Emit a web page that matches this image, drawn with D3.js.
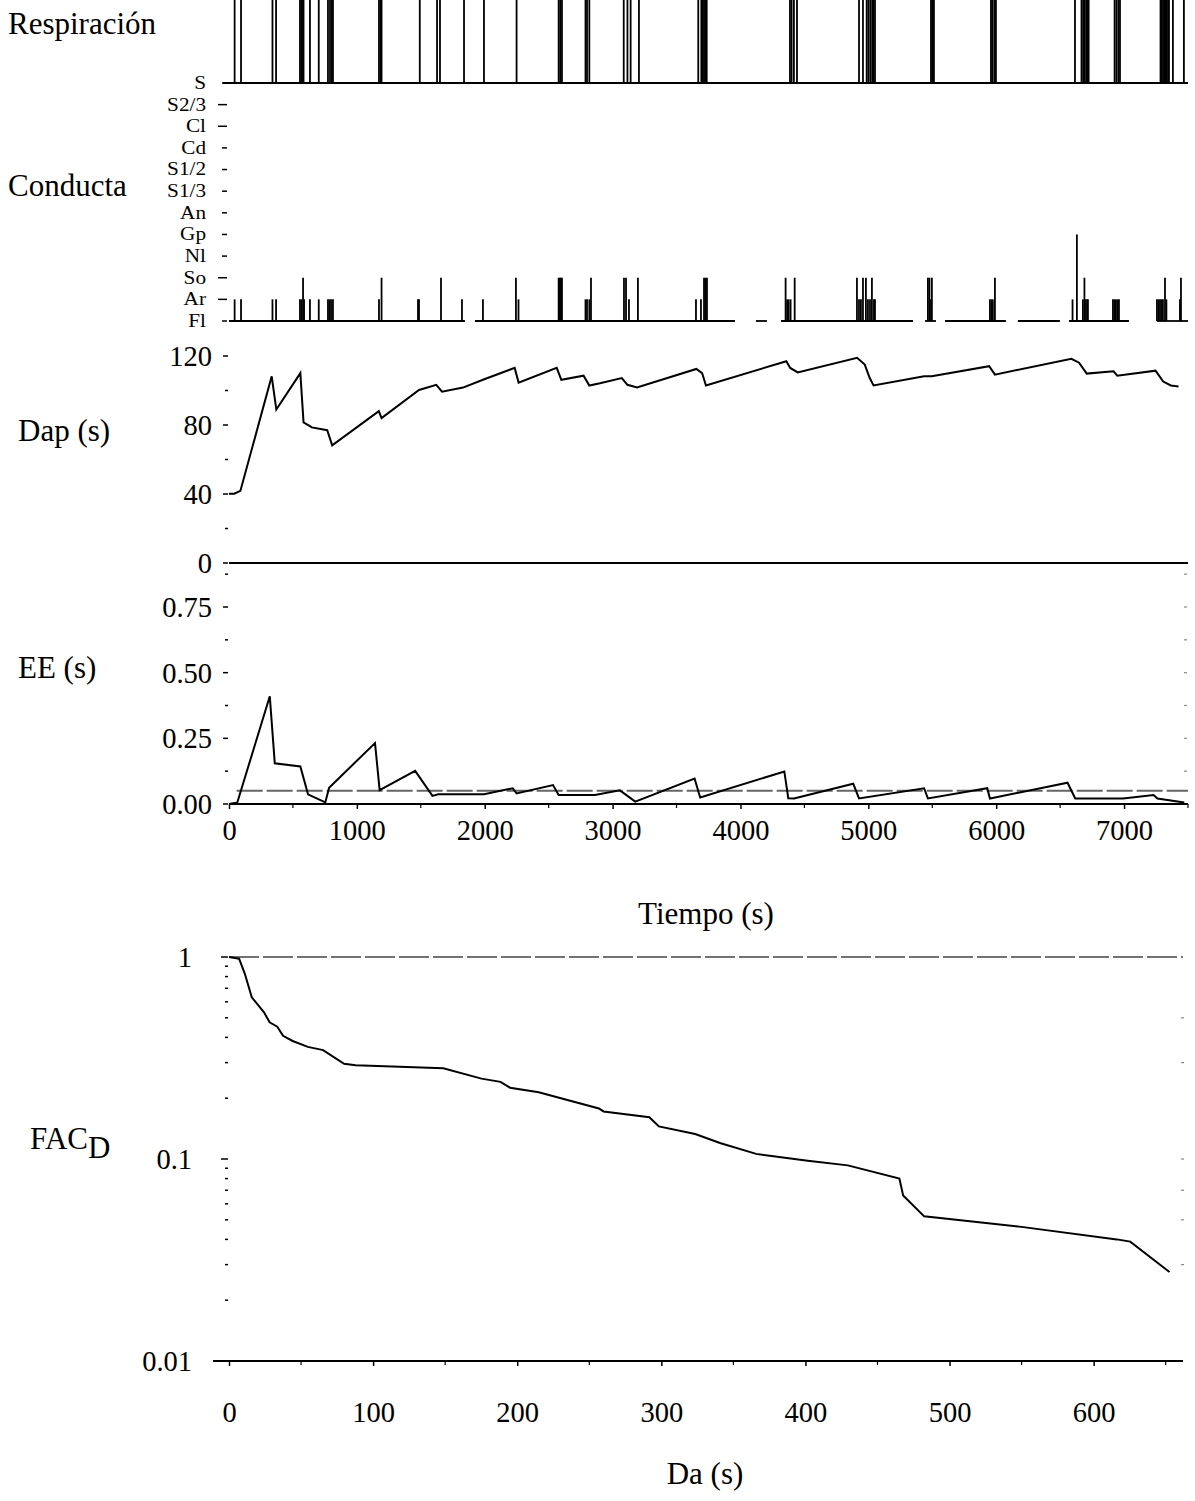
<!DOCTYPE html>
<html>
<head>
<meta charset="utf-8">
<script src="https://cdn.jsdelivr.net/npm/d3@7"></script>
<style>
  html, body { margin: 0; padding: 0; background: #fff; }
  svg { display: block; }
  text { font-family: "Liberation Serif", "Times New Roman", serif; fill: #000; }
</style>
</head>
<body>
<svg id="chart" width="1195" height="1501"></svg>
<script>
// ---- Respiration events (s): each one is a full-height stroke
const respirationTimes = [44, 94, 340, 368, 555, 565, 575, 583, 633, 702, 774, 790, 805, 813,
  1173, 1185, 1193, 1492, 1627, 1650, 1838, 1994, 2249, 2578, 2590, 2604, 2788, 2800, 2818,
  3087, 3116, 3141, 3206, 3670, 3694, 3705, 3715, 3725, 3736, 4387, 4400, 4418, 4442,
  4927, 4958, 4987, 5000, 5015, 5030, 5040, 5052, 5490, 5500, 5513, 5959, 5970, 5985, 5998,
  6616, 6667, 6680, 6693, 6705, 6715, 6723, 6926, 6940, 6955, 6968,
  7285, 7295, 7305, 7315, 7325, 7335, 7345, 7351, 7382, 7468];

// ---- Behaviour categories, bottom to top
const behaviorCategories = ["Fl", "Ar", "So", "Nl", "Gp", "An", "S1/3", "S1/2", "Cd", "Cl", "S2/3", "S"];

// Behaviour events: time (s) and the category reached from the Fl baseline
const behaviorTimes = [44, 94, 340, 368, 555, 567, 579, 587, 633, 702, 774, 786, 798, 813,
  1173, 1193, 1478, 1486, 1658, 1822, 1986, 2244, 2264, 2578, 2588, 2596, 2604,
  2788, 2800, 2818, 2831, 3089, 3105, 3128, 3198, 3652, 3691, 3715, 3726, 3738,
  4353, 4365, 4377, 4392, 4424, 4911, 4927, 4942, 4958, 4981, 4997, 5013, 5028, 5044, 5052,
  5466, 5478, 5490, 5497, 5951, 5963, 5974, 5990,
  6597, 6631, 6678, 6690, 6702, 6713, 6717, 6913, 6925, 6936, 6948, 6960,
  7257, 7269, 7281, 7293, 7304, 7320, 7331, 7437, 7445];
const behaviorLevels = ["Ar", "Ar", "Ar", "Ar", "Ar", "Ar", "So", "Ar", "Ar", "Ar", "Ar", "Ar", "Ar", "Ar",
  "Ar", "So", "Ar", "Ar", "So", "Ar", "Ar", "So", "Ar", "So", "So", "So", "So",
  "Ar", "Ar", "Ar", "So", "So", "So", "Ar", "So", "Ar", "Ar", "So", "So", "So",
  "So", "Ar", "Ar", "Ar", "So", "So", "Ar", "Ar", "So", "So", "Ar", "Ar", "So", "Ar", "Ar",
  "So", "So", "Ar", "So", "Ar", "Ar", "Ar", "So",
  "Ar", "Gp", "Ar", "So", "Ar", "Ar", "Ar", "Ar", "Ar", "Ar", "Ar", "Ar",
  "Ar", "Ar", "Ar", "Ar", "Ar", "So", "Ar", "Ar", "So"];
// Stretches (s) where the Fl baseline was not recorded
const flBaselineGaps = [[1845, 1924], [3957, 4121], [4207, 4317], [5349, 5443], [5529, 5600],
  [6076, 6170], [6498, 6569], [7038, 7257]];

// ---- Dap (s) against time (s)
const dapTime = [0, 41, 89, 334, 370, 558, 583, 648, 768, 807, 1172, 1193, 1486, 1621, 1666, 1830,
  1986, 2234, 2265, 2563, 2599, 2773, 2818, 2901, 3072, 3116, 3191, 3655, 3700, 3730,
  4359, 4389, 4448, 4912, 4972, 5011, 5041, 5436, 5496, 5945, 5990, 6588, 6648, 6708,
  6918, 6947, 7246, 7306, 7366, 7426];
const dapValues = [40.2, 40.2, 41.8, 108.2, 89, 110.1, 81.5, 78.6, 77, 68.2, 88, 84, 100.3, 103.3, 99.3, 101.7,
  106.2, 113.1, 104.6, 113.1, 106.2, 108.6, 102.9, 104.2, 107.2, 103.3, 101.7, 112.5, 110.1, 102.9,
  117, 113.1, 110.5, 119, 115, 107.2, 102.9, 108.2, 108.2, 114.1, 109.2, 118.4, 116.1, 109.8,
  111.1, 108.6, 111.5, 105.2, 102.9, 102.3];

// ---- EE (s) against time (s)
const eeTime = [0, 65, 319, 358, 558, 618, 753, 783, 1142, 1178, 1456, 1591, 1636, 1995, 2219, 2249,
  2534, 2578, 2862, 3057, 3177, 3641, 3685, 4343, 4374, 4419, 4882, 4927, 5436, 5466,
  5930, 5951, 6558, 6618, 6992, 7231, 7261, 7471];
const eeValues = [0, 0.006, 0.41, 0.155, 0.143, 0.037, 0.006, 0.062, 0.232, 0.053, 0.126, 0.031, 0.037, 0.037, 0.06, 0.04,
  0.072, 0.034, 0.034, 0.052, 0.009, 0.097, 0.025, 0.124, 0.022, 0.021, 0.077, 0.021, 0.06, 0.021,
  0.06, 0.021, 0.081, 0.021, 0.021, 0.034, 0.021, 0.006];
const eeReference = 0.05;

// ---- FAC_D against Da (s)
const facDa = [0, 7, 11, 15.8, 24.3, 28.2, 33.5, 37.5, 44.2, 54.7, 65.3, 79.9, 87.8, 148.7, 175.2, 188.4,
  195.1, 214.9, 256.7, 259.9, 291.7, 298.3, 323.5, 340.7, 365.8, 401.6, 429.4, 465.2, 467.8,
  482.4, 551.2, 616.1, 625.4, 652.6];
const facValues = [1, 0.981, 0.826, 0.632, 0.532, 0.475, 0.452, 0.407, 0.384, 0.359, 0.346, 0.296, 0.291, 0.281, 0.25, 0.241,
  0.225, 0.214, 0.178, 0.172, 0.161, 0.145, 0.133, 0.12, 0.106, 0.098, 0.093, 0.08, 0.066,
  0.052, 0.046, 0.04, 0.039, 0.0276];

// ---- Tick values
const timeTicks = [0, 1000, 2000, 3000, 4000, 5000, 6000, 7000];
const timeMinorTicks = [500, 1500, 2500, 3500, 4500, 5500, 6500, 7500];
const dapTicks = [0, 40, 80, 120];
const dapMinorTicks = [20, 60, 100];
const eeTicks = [0, 0.25, 0.5, 0.75];
const eeMinorTicks = [0.125, 0.375, 0.625, 0.875];
const facTicks = [0.01, 0.1, 1];
const daTicks = [0, 100, 200, 300, 400, 500, 600];
const daMinorTicks = [50, 150, 250, 350, 450, 550, 650];

// ================= drawing =================
const svg = d3.select("#chart");
const X0 = 229, X1 = 1188;

const xTime = d3.scaleLinear().domain([0, 7500]).range([X0, X1]);
const yCond = d3.scalePoint().domain(behaviorCategories).range([321, 83]);
const yResp = d3.scaleLinear().domain([0, 1]).range([yCond("S"), 0]);
const yDap = d3.scaleLinear().domain([0, 120]).range([563, 356]);
const yEE = d3.scaleLinear().domain([0, 0.75]).range([804, 607]);
const xDa = d3.scaleLinear().domain([0, 662]).range([X0, 1183]);
const yFac = d3.scaleLog().domain([0.01, 1]).range([1361, 957]);

const tickFont = 28.5;
const titleFont = 31;

function leftTicks(g, scale, majors, minors, fmt, labelX) {
  majors.forEach(v => {
    g.append("line").attr("x1", X0 - 6).attr("x2", X0 - 1)
      .attr("y1", scale(v)).attr("y2", scale(v)).attr("stroke", "#000").attr("stroke-width", 1.5);
    g.append("text").attr("x", labelX).attr("y", scale(v)).attr("dy", "0.35em")
      .attr("text-anchor", "end").attr("font-size", tickFont).text(fmt(v));
  });
  minors.forEach(v => {
    g.append("line").attr("x1", X0 - 4).attr("x2", X0 - 1)
      .attr("y1", scale(v)).attr("y2", scale(v)).attr("stroke", "#000").attr("stroke-width", 1.5);
  });
}

function rightTicks(g, scale, values, xr) {
  values.forEach(v => {
    g.append("line").attr("x1", xr - 2).attr("x2", xr + 1)
      .attr("y1", scale(v)).attr("y2", scale(v)).attr("stroke", "#888").attr("stroke-width", 1.2);
  });
}

// ---- Respiración panel
const resp = svg.append("g");
resp.append("text").attr("x", 8).attr("y", 34).attr("font-size", titleFont).text("Respiración");
resp.selectAll("line.ev").data(respirationTimes).join("line")
  .attr("x1", d => xTime(d)).attr("x2", d => xTime(d))
  .attr("y1", yResp(1)).attr("y2", yResp(0))
  .attr("stroke", "#000").attr("stroke-width", 1.8);
resp.append("line").attr("x1", X0 - 6).attr("x2", X1)
  .attr("y1", yResp(0)).attr("y2", yResp(0)).attr("stroke", "#000").attr("stroke-width", 2);

// ---- Conducta panel
const cond = svg.append("g");
cond.append("text").attr("x", 8).attr("y", 196).attr("font-size", titleFont).text("Conducta");
// category names are set tight and slightly widened, as in a compact stacked axis
behaviorCategories.forEach(c => {
  cond.append("text")
    .attr("transform", `translate(206,${yCond(c)}) scale(1.18,1)`)
    .attr("dy", "0.33em")
    .attr("text-anchor", "end").attr("font-size", 18).text(c);
  const long = (c === "S2/3" || c === "Cl" || c === "So" || c === "Ar");
  cond.append("line").attr("x1", long ? 218 : 222).attr("x2", 227)
    .attr("y1", yCond(c)).attr("y2", yCond(c)).attr("stroke", "#000").attr("stroke-width", 1.5);
});
// Fl baseline, broken where no record exists
const flSegments = [];
let start = 0;
flBaselineGaps.forEach(([a, b]) => { flSegments.push([start, a]); start = b; });
flSegments.push([start, 7500]);
cond.selectAll("line.base").data(flSegments).join("line")
  .attr("x1", d => xTime(d[0])).attr("x2", d => xTime(d[1]))
  .attr("y1", yCond("Fl")).attr("y2", yCond("Fl"))
  .attr("stroke", "#000").attr("stroke-width", 1.8);
cond.selectAll("line.ev").data(behaviorTimes.map((t, i) => [t, behaviorLevels[i]])).join("line")
  .attr("x1", d => xTime(d[0])).attr("x2", d => xTime(d[0]))
  .attr("y1", yCond("Fl")).attr("y2", d => yCond(d[1]))
  .attr("stroke", "#000").attr("stroke-width", 1.8);

// ---- Dap panel
const dap = svg.append("g");
dap.append("text").attr("x", 18).attr("y", 441).attr("font-size", titleFont).text("Dap (s)");
leftTicks(dap, yDap, dapTicks, dapMinorTicks, d3.format("d"), 212);
dap.append("line").attr("x1", X0).attr("x2", X1)
  .attr("y1", yDap(0)).attr("y2", yDap(0)).attr("stroke", "#000").attr("stroke-width", 2);
dap.append("path")
  .attr("d", d3.line().x((d, i) => xTime(dapTime[i])).y(d => yDap(d))(dapValues))
  .attr("fill", "none").attr("stroke", "#000").attr("stroke-width", 2);

// ---- EE panel
const ee = svg.append("g");
ee.append("text").attr("x", 18).attr("y", 678).attr("font-size", titleFont).text("EE (s)");
leftTicks(ee, yEE, eeTicks, eeMinorTicks, d3.format(".2f"), 212);
rightTicks(ee, yEE, eeTicks.concat(eeMinorTicks).filter(v => v > 0), 1186);
ee.append("line").attr("x1", xTime(60)).attr("x2", X1)
  .attr("y1", yEE(eeReference)).attr("y2", yEE(eeReference))
  .attr("stroke", "#666").attr("stroke-width", 2).attr("stroke-dasharray", "26 4");
ee.append("path")
  .attr("d", d3.line().x((d, i) => xTime(eeTime[i])).y(d => yEE(d))(eeValues))
  .attr("fill", "none").attr("stroke", "#000").attr("stroke-width", 2);
// time axis
const xAxis = d3.axisBottom(xTime).tickValues(timeTicks).tickSize(5).tickPadding(11)
  .tickFormat(d3.format("d"));
const xg = ee.append("g").attr("transform", `translate(0,${yEE(0)})`).call(xAxis);
xg.select(".domain").attr("stroke-width", 2).attr("d", `M${X0},0H${X1}`);
xg.selectAll(".tick line").attr("stroke-width", 1.5);
xg.selectAll(".tick text").attr("font-size", tickFont)
  .attr("font-family", "Liberation Serif, Times New Roman, serif");
timeMinorTicks.forEach(v => {
  ee.append("line").attr("x1", xTime(v)).attr("x2", xTime(v))
    .attr("y1", yEE(0)).attr("y2", yEE(0) + 4).attr("stroke", "#000").attr("stroke-width", 1.2);
});
ee.append("text").attr("x", 706).attr("y", 924).attr("text-anchor", "middle")
  .attr("font-size", titleFont).text("Tiempo (s)");

// ---- FAC_D panel
const fac = svg.append("g");
const facLabel = fac.append("text").attr("x", 30).attr("y", 1149).attr("font-size", titleFont);
facLabel.append("tspan").text("FAC");
facLabel.append("tspan").attr("dy", 9).text("D");

const facMinor = [];
[0.01, 0.1].forEach(dec => { for (let k = 2; k <= 9; k++) facMinor.push(dec * k); });
facTicks.forEach(v => {
  fac.append("line").attr("x1", X0 - 8).attr("x2", X0 - 1)
    .attr("y1", yFac(v)).attr("y2", yFac(v)).attr("stroke", "#000").attr("stroke-width", 1.5);
  fac.append("text").attr("x", 192).attr("y", yFac(v)).attr("dy", "0.35em")
    .attr("text-anchor", "end").attr("font-size", tickFont).text(v === 1 ? "1" : String(v));
});
facMinor.forEach(v => {
  fac.append("line").attr("x1", X0 - 4).attr("x2", X0 - 1)
    .attr("y1", yFac(v)).attr("y2", yFac(v)).attr("stroke", "#000").attr("stroke-width", 1.5);
});
rightTicks(fac, yFac, [0.03, 0.05, 0.07, 0.1, 0.3, 0.5], 1183);
fac.append("line").attr("x1", X0).attr("x2", 1183)
  .attr("y1", yFac(1)).attr("y2", yFac(1))
  .attr("stroke", "#444").attr("stroke-width", 1.6).attr("stroke-dasharray", "30 4");
fac.append("path")
  .attr("d", d3.line().x((d, i) => xDa(facDa[i])).y(d => yFac(d))(facValues))
  .attr("fill", "none").attr("stroke", "#000").attr("stroke-width", 2);
const daAxis = d3.axisBottom(xDa).tickValues(daTicks).tickSize(5).tickPadding(36)
  .tickFormat(d3.format("d"));
const dg = fac.append("g").attr("transform", `translate(0,${yFac(0.01)})`).call(daAxis);
dg.select(".domain").attr("stroke-width", 2).attr("d", `M${X0 - 16},0H1183`);
dg.selectAll(".tick line").attr("stroke-width", 1.5);
dg.selectAll(".tick text").attr("font-size", tickFont)
  .attr("font-family", "Liberation Serif, Times New Roman, serif");
daMinorTicks.forEach(v => {
  fac.append("line").attr("x1", xDa(v)).attr("x2", xDa(v))
    .attr("y1", yFac(0.01)).attr("y2", yFac(0.01) + 4).attr("stroke", "#000").attr("stroke-width", 1.2);
});
fac.append("text").attr("x", 705).attr("y", 1484).attr("text-anchor", "middle")
  .attr("font-size", titleFont).text("Da (s)");
</script>
</body>
</html>
